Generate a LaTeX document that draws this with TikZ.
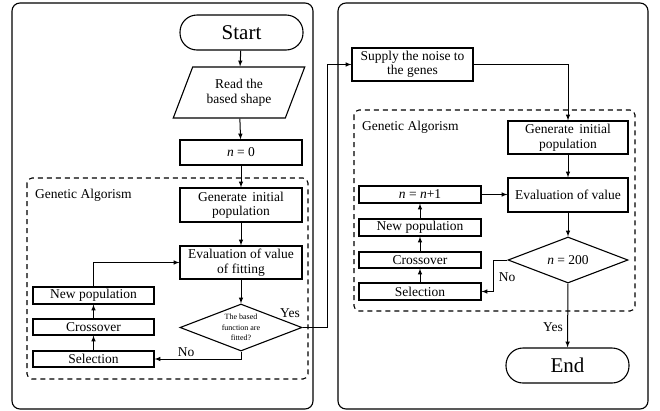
\documentclass[tikz,border=0pt]{standalone}
\usepackage{fontspec}
\setmainfont{Liberation Serif}
\usepackage{tikz}
\usetikzlibrary{shapes, arrows}

\begin{document}
\begin{tikzpicture}[x=1pt, y=-1pt, inner sep=1pt,
	box/.style={draw, line width=1.1pt, align=center, font=\fontsize{13.5}{14.5}\selectfont},
	term/.style={draw, line width=1.1pt, rounded corners=17pt, minimum width=123pt, minimum height=35pt, font=\fontsize{21}{24}\selectfont},
	dec/.style={draw, diamond, line width=1.1pt, inner sep=0pt, aspect=2.6, align=center},
	arr/.style={-latex, line width=1pt},
	panel/.style={draw, line width=1.1pt, rounded corners=8pt},
	galoop/.style={draw, line width=1.1pt, dash pattern=on 5pt off 4pt, rounded corners=5pt},
	lbl/.style={font=\fontsize{13.5}{14.5}\selectfont}]
  	\useasboundingbox (0,0) rectangle (660,410);

  	\draw[panel] (12,3) rectangle (313,409);
  	\draw[panel] (338,3) rectangle (648,409);
  	\draw[galoop] (27,178) rectangle (308,379);
  	\draw[galoop] (354,110) rectangle (635,311);

  	\node[term] (start) at (241.5,32.5) {Start};
  	\node[box, trapezium, trapezium left angle=64, trapezium right angle=116, trapezium stretches=true, minimum width=132pt, minimum height=51pt] (read) at (239,92.5) {Read the\\based shape};
  	\node[box, minimum width=122pt, minimum height=25pt] (n0) at (241,152.5) {\textit{n} = 0};
  	\node[lbl, anchor=west] (ga1) at (34,195) {Genetic Algorism};
  	\node[box, minimum width=122pt, minimum height=34pt] (gen1) at (241,205) {Generate\, initial\\population};
  	\node[box, minimum width=122pt, minimum height=33pt] (eval1) at (241,262.5) {Evaluation of value\\of fitting};
  	\node[dec, minimum width=122pt, minimum height=47pt, font=\fontsize{8}{10.5}\selectfont] (fit1) at (241,327.5) {The based\\function are\\fitted?};
  	\node[box, minimum width=121pt, minimum height=17pt] (newpop1) at (93.5,295.5) {New population};
  	\node[box, minimum width=121pt, minimum height=16pt] (cross1) at (93.5,327) {Crossover};
  	\node[box, minimum width=121pt, minimum height=16pt] (sel1) at (93.5,359) {Selection};
  	\node[lbl] (yes1) at (290,313) {Yes};
  	\node[lbl] (no1) at (186,352) {No};

  	\node[box, minimum width=121pt, minimum height=33pt] (noise) at (412.5,64.5) {Supply the noise to\\the genes};
  	\node[lbl, anchor=west] (ga2) at (361,127) {Genetic Algorism};
  	\node[box, minimum width=120pt, minimum height=33pt] (gen2) at (568,137.5) {Generate\, initial\\population};
  	\node[box, minimum width=120pt, minimum height=34pt] (eval2) at (568,195) {Evaluation of value};
  	\node[box, minimum width=122pt, minimum height=17pt] (nn) at (420,194.5) {\textit{n} = \textit{n}+1};
  	\node[box, minimum width=122pt, minimum height=17pt] (newpop2) at (420,227.5) {New population};
  	\node[box, minimum width=122pt, minimum height=16pt] (cross2) at (420,260) {Crossover};
  	\node[box, minimum width=122pt, minimum height=17pt] (sel2) at (420,291.5) {Selection};
  	\node[dec, minimum width=120pt, minimum height=46pt, font=\fontsize{13.5}{14.5}\selectfont] (n200) at (568,260) {\textit{n} = 200};
  	\node[term] (end) at (567.5,365.5) {End};
  	\node[lbl] (no2) at (507,277) {No};
  	\node[lbl] (yes2) at (553,327) {Yes};

  	\draw[arr] (start) -- (read);
  	\draw[arr] (read) -- (n0);
  	\draw[arr] (n0) -- (gen1);
  	\draw[arr] (gen1) -- (eval1);
  	\draw[arr] (eval1) -- (fit1);
  	\draw[arr] (fit1.east) -- ++(25,0) |- (noise.west);
  	\draw[arr] (fit1.south) |- (sel1.east);
  	\draw[arr] (sel1) -- (cross1);
  	\draw[arr] (cross1) -- (newpop1);
  	\draw[arr] (newpop1.north) |- (eval1.west);

  	\draw[arr] (noise.east) -| (gen2.north);
  	\draw[arr] (gen2) -- (eval2);
  	\draw[arr] (eval2) -- (n200);
  	\draw[arr] (n200.west) -- ++(-14,0) |- (sel2.east);
  	\draw[arr] (sel2) -- (cross2);
  	\draw[arr] (cross2) -- (newpop2);
  	\draw[arr] (newpop2) -- (nn);
  	\draw[arr] (nn.east) -- (eval2.west |- nn.east);
  	\draw[arr] (n200) -- (end);
  	\end{tikzpicture}
\end{document}
